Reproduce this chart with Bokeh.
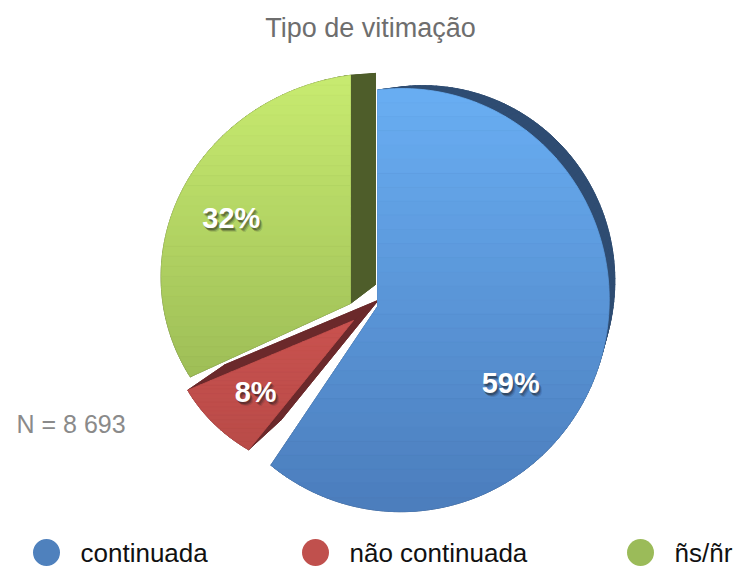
import numpy as np
from bokeh.plotting import figure
from bokeh.models import Range1d
from bokeh.embed import file_html
from bokeh.resources import INLINE
from bokeh.core.properties import value

# ---------------- data ----------------
categories = ["continuada", "não continuada", "ñs/ñr"]
shares = [59, 8, 32]                      # percent
title_text = "Tipo de vitimação"
note_text = "N = 8 693"

# ---------------- style ----------------
FONT = "Liberation Sans"
face_top = ["#69AEF3", "#C9524F", "#C8EB70"]
face_bot = ["#4B7DBC", "#B94B48", "#9EBE57"]
side_col = ["#2F4C72", "#6B292B", "#4E5D2A"]
legend_col = ["#4F81BD", "#C0504D", "#9BBB59"]
# per-slice perspective geometry (pixels) : apex, scale x/y, perspective a/b
GEOM = [
    dict(apex=(377, 306), sx=205, sy=210, a=-0.115, b=-0.03, lab_r=0.70, lab_d=12),
    dict(apex=(353, 320), sx=185, sy=157, a=0.0, b=0.0, lab_r=0.70, lab_d=0),
    dict(apex=(350, 303), sx=210, sy=194, a=-0.12, b=-0.15, lab_r=0.72, lab_d=6),
]
VP = np.array([683.0, 50.0])   # vanishing point of the slab depth
K_DEPTH = 0.075
legend_x = [46, 315, 640]
legend_y = 552

W, H = 745, 567
p = figure(width=W, height=H, output_backend="svg", toolbar_location=None,
           x_range=Range1d(0, W), y_range=Range1d(H, 0),
           min_border=0, x_axis_location=None, y_axis_location=None,
           outline_line_color=None, background_fill_color="white",
           border_fill_color="white")
p.grid.visible = False


def project(g, phi_deg, r=1.0):
    phi = np.radians(phi_deg)
    u = r * np.sin(phi)
    v = r * np.cos(phi)
    D = 1 + g["a"] * u + g["b"] * v
    return g["apex"][0] + g["sx"] * u / D, g["apex"][1] - g["sy"] * v / D


def sector(g, a0, a1):
    n = max(6, int((a1 - a0) / 1.5))
    angs = np.linspace(a0, a1, n)
    pts = [tuple(g["apex"])]
    for a in angs:
        pts.append(project(g, a))
    return pts


def clip_h(pts, yc, keep_greater):
    out = []
    n = len(pts)
    for i in range(n):
        P = pts[i]
        Q = pts[(i + 1) % n]
        inP = P[1] >= yc if keep_greater else P[1] <= yc
        inQ = Q[1] >= yc if keep_greater else Q[1] <= yc
        if inP:
            out.append(P)
        if inP != inQ:
            t = (yc - P[1]) / (Q[1] - P[1])
            out.append((P[0] + t * (Q[0] - P[0]), yc))
    return out


def mix(c1, c2, t):
    a = [int(c1[i:i + 2], 16) for i in (1, 3, 5)]
    b = [int(c2[i:i + 2], 16) for i in (1, 3, 5)]
    return "#%02x%02x%02x" % tuple(int(round(a[k] + (b[k] - a[k]) * t)) for k in range(3))


total = float(sum(shares))
starts = np.concatenate([[0], np.cumsum(shares)[:-1]]) / total * 360.0
ends = np.cumsum(shares) / total * 360.0

polys = [sector(GEOM[i], starts[i], ends[i]) for i in range(len(shares))]

# draw order: red, green, blue
for i in [1, 2, 0]:
    pts = np.array(polys[i])
    back = pts + K_DEPTH * (VP - pts)
    xs, ys = [list(back[:, 0])], [list(back[:, 1])]
    n = len(pts)
    for j in range(n):
        a, b2 = pts[j], pts[(j + 1) % n]
        ba, bb = back[j], back[(j + 1) % n]
        xs.append([a[0], b2[0], bb[0], ba[0]])
        ys.append([a[1], b2[1], bb[1], ba[1]])
    p.patches(xs, ys, fill_color=side_col[i], line_color=side_col[i], line_width=0.8)

    # face with vertical gradient bands
    y0, y1 = pts[:, 1].min(), pts[:, 1].max()
    nb = 30
    edges = np.linspace(y0, y1, nb + 1)
    fx, fy, fc = [], [], []
    for k in range(nb):
        c = clip_h(polys[i], edges[k], True)
        c = clip_h(c, edges[k + 1], False)
        if len(c) < 3:
            continue
        fx.append([q[0] for q in c])
        fy.append([q[1] for q in c])
        fc.append(mix(face_top[i], face_bot[i], (k + 0.5) / nb))
    p.patches(fx, fy, fill_color=fc, line_color=fc, line_width=0.8)

# percentage labels with shadow
lx, ly, lt = [], [], []
for i, s in enumerate(shares):
    g = GEOM[i]
    mid = (starts[i] + ends[i]) / 2 + g["lab_d"]
    x, y = project(g, mid, g["lab_r"])
    lx.append(x)
    ly.append(y)
    lt.append(f"{s}%")
for dx, dy, al in [(2, 3, 0.25), (1, 2, 0.35), (3, 4, 0.15)]:
    p.text(x=[v + dx for v in lx], y=[v + dy for v in ly], text=lt,
           text_font=value(FONT), text_font_style="bold", text_font_size="29px",
           text_color="#1a1a1a", text_alpha=al, text_align="center", text_baseline="middle")
p.text(x=lx, y=ly, text=lt, text_font=value(FONT), text_font_style="bold",
       text_font_size="29px", text_color="white", text_align="center", text_baseline="middle")

# title and note
p.text(x=[370], y=[27], text=[title_text], text_font=value(FONT), text_font_size="27px",
       text_color="#6E6E6E", text_align="center", text_baseline="middle")
p.text(x=[16], y=[423], text=[note_text], text_font=value(FONT), text_font_size="25px",
       text_color="#8A8A8A", text_align="left", text_baseline="middle")

# legend
p.scatter(x=legend_x, y=[legend_y] * 3, size=27, marker="circle",
          fill_color=legend_col, line_color=None)
p.text(x=[x + 34 for x in legend_x], y=[legend_y] * 3, text=categories,
       text_font=value(FONT), text_font_size="26px", text_color="#111111",
       text_align="left", text_baseline="middle")

open("out.html", "w").write(file_html(p, INLINE))
